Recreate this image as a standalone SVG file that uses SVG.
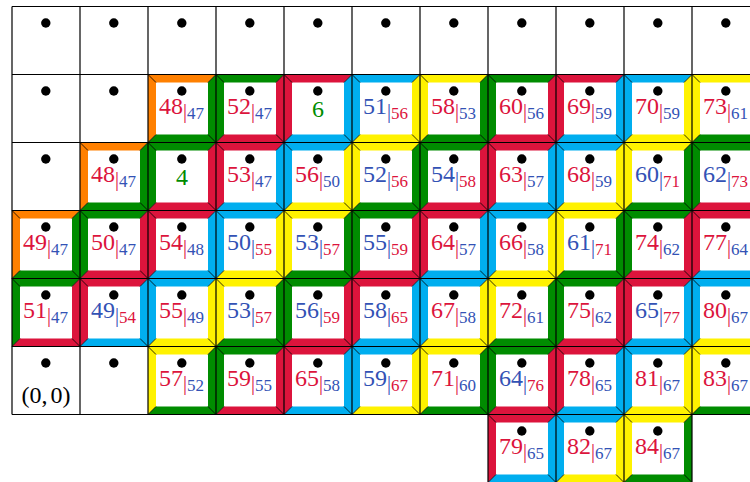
<svg xmlns="http://www.w3.org/2000/svg" xmlns:xlink="http://www.w3.org/1999/xlink" width="750" height="482" viewBox="0 0 750 482">
<style>
.o{fill:#FF8000}.g{fill:#008C00}.r{fill:#DC143C}.c{fill:#00AEEF}.y{fill:#FFF200}
.d{stroke:#000;stroke-width:0.8;fill:none}
.grid{stroke:#000;stroke-width:1.2;fill:none}
.dot{fill:#000}
text{font-family:"Liberation Serif","Times New Roman",serif;font-size:24px;text-anchor:middle}
.tr{fill:#DC143C}.tb{fill:#3352B5}.tg{fill:#008C00}.tk{fill:#000}
.bar{font-size:20px}.sub{font-size:17px}
</style>
<defs>
<path id="tl" d="M0,0H68L60,8H8V60L0,68Z"/>
<path id="br" d="M68,0V68H0L8,60H60V8Z"/>
<path id="dg" class="d" d="M0,0L8,8M68,0L60,8M68,68L60,60M0,68L8,60"/>
<circle id="dt" class="dot" cx="33.8" cy="16.5" r="4.7"/>
</defs>
<rect width="750" height="482" fill="#fff"/>
<g id="plain">
<g id="c0-0" transform="translate(12,6.5)"><use href="#dt"/></g>
<g id="c0-1" transform="translate(80,6.5)"><use href="#dt"/></g>
<g id="c0-2" transform="translate(148,6.5)"><use href="#dt"/></g>
<g id="c0-3" transform="translate(216,6.5)"><use href="#dt"/></g>
<g id="c0-4" transform="translate(284,6.5)"><use href="#dt"/></g>
<g id="c0-5" transform="translate(352,6.5)"><use href="#dt"/></g>
<g id="c0-6" transform="translate(420,6.5)"><use href="#dt"/></g>
<g id="c0-7" transform="translate(488,6.5)"><use href="#dt"/></g>
<g id="c0-8" transform="translate(556,6.5)"><use href="#dt"/></g>
<g id="c0-9" transform="translate(624,6.5)"><use href="#dt"/></g>
<g id="c0-10" transform="translate(692,6.5)"><use href="#dt"/></g>
<g id="c1-0" transform="translate(12,74.5)"><use href="#dt"/></g>
<g id="c1-1" transform="translate(80,74.5)"><use href="#dt"/></g>
<g id="c2-0" transform="translate(12,142.5)"><use href="#dt"/></g>
<g id="c5-0" transform="translate(12,346.5)"><use href="#dt"/><text class="tk" x="34" y="56">(0,<tspan dx="3">0)</tspan></text></g>
<g id="c5-1" transform="translate(80,346.5)"><use href="#dt"/></g>
</g>
<g id="row1">
<g id="c1-2" transform="translate(148,74.5)"><use href="#tl" class="o"/><use href="#br" class="g"/><use href="#dg"/><use href="#dt"/><text x="33.5" y="39.5"><tspan class="tr">48</tspan><tspan class="tr bar" dy="3.5">|</tspan><tspan class="tb sub" dy="1">47</tspan></text></g>
<g id="c1-3" transform="translate(216,74.5)"><use href="#tl" class="g"/><use href="#br" class="r"/><use href="#dg"/><use href="#dt"/><text x="33.5" y="39.5"><tspan class="tr">52</tspan><tspan class="tr bar" dy="3.5">|</tspan><tspan class="tb sub" dy="1">47</tspan></text></g>
<g id="c1-4" transform="translate(284,74.5)"><use href="#tl" class="r"/><use href="#br" class="c"/><use href="#dg"/><use href="#dt"/><text class="tg" x="34" y="42.5">6</text></g>
<g id="c1-5" transform="translate(352,74.5)"><use href="#tl" class="c"/><use href="#br" class="y"/><use href="#dg"/><use href="#dt"/><text x="33.5" y="39.5"><tspan class="tb">51</tspan><tspan class="tb bar" dy="3.5">|</tspan><tspan class="tr sub" dy="1">56</tspan></text></g>
<g id="c1-6" transform="translate(420,74.5)"><use href="#tl" class="y"/><use href="#br" class="g"/><use href="#dg"/><use href="#dt"/><text x="33.5" y="39.5"><tspan class="tr">58</tspan><tspan class="tr bar" dy="3.5">|</tspan><tspan class="tb sub" dy="1">53</tspan></text></g>
<g id="c1-7" transform="translate(488,74.5)"><use href="#tl" class="g"/><use href="#br" class="r"/><use href="#dg"/><use href="#dt"/><text x="33.5" y="39.5"><tspan class="tr">60</tspan><tspan class="tr bar" dy="3.5">|</tspan><tspan class="tb sub" dy="1">56</tspan></text></g>
<g id="c1-8" transform="translate(556,74.5)"><use href="#tl" class="r"/><use href="#br" class="c"/><use href="#dg"/><use href="#dt"/><text x="33.5" y="39.5"><tspan class="tr">69</tspan><tspan class="tr bar" dy="3.5">|</tspan><tspan class="tb sub" dy="1">59</tspan></text></g>
<g id="c1-9" transform="translate(624,74.5)"><use href="#tl" class="c"/><use href="#br" class="y"/><use href="#dg"/><use href="#dt"/><text x="33.5" y="39.5"><tspan class="tr">70</tspan><tspan class="tr bar" dy="3.5">|</tspan><tspan class="tb sub" dy="1">59</tspan></text></g>
<g id="c1-10" transform="translate(692,74.5)"><use href="#tl" class="y"/><use href="#br" class="g"/><use href="#dg"/><use href="#dt"/><text x="33.5" y="39.5"><tspan class="tr">73</tspan><tspan class="tr bar" dy="3.5">|</tspan><tspan class="tb sub" dy="1">61</tspan></text></g>
</g>
<g id="row2">
<g id="c2-1" transform="translate(80,142.5)"><use href="#tl" class="o"/><use href="#br" class="g"/><use href="#dg"/><use href="#dt"/><text x="33.5" y="39.5"><tspan class="tr">48</tspan><tspan class="tr bar" dy="3.5">|</tspan><tspan class="tb sub" dy="1">47</tspan></text></g>
<g id="c2-2" transform="translate(148,142.5)"><use href="#tl" class="g"/><use href="#br" class="r"/><use href="#dg"/><use href="#dt"/><text class="tg" x="34" y="42.5">4</text></g>
<g id="c2-3" transform="translate(216,142.5)"><use href="#tl" class="r"/><use href="#br" class="c"/><use href="#dg"/><use href="#dt"/><text x="33.5" y="39.5"><tspan class="tr">53</tspan><tspan class="tr bar" dy="3.5">|</tspan><tspan class="tb sub" dy="1">47</tspan></text></g>
<g id="c2-4" transform="translate(284,142.5)"><use href="#tl" class="c"/><use href="#br" class="y"/><use href="#dg"/><use href="#dt"/><text x="33.5" y="39.5"><tspan class="tr">56</tspan><tspan class="tr bar" dy="3.5">|</tspan><tspan class="tb sub" dy="1">50</tspan></text></g>
<g id="c2-5" transform="translate(352,142.5)"><use href="#tl" class="y"/><use href="#br" class="g"/><use href="#dg"/><use href="#dt"/><text x="33.5" y="39.5"><tspan class="tb">52</tspan><tspan class="tb bar" dy="3.5">|</tspan><tspan class="tr sub" dy="1">56</tspan></text></g>
<g id="c2-6" transform="translate(420,142.5)"><use href="#tl" class="g"/><use href="#br" class="r"/><use href="#dg"/><use href="#dt"/><text x="33.5" y="39.5"><tspan class="tb">54</tspan><tspan class="tb bar" dy="3.5">|</tspan><tspan class="tr sub" dy="1">58</tspan></text></g>
<g id="c2-7" transform="translate(488,142.5)"><use href="#tl" class="r"/><use href="#br" class="c"/><use href="#dg"/><use href="#dt"/><text x="33.5" y="39.5"><tspan class="tr">63</tspan><tspan class="tr bar" dy="3.5">|</tspan><tspan class="tb sub" dy="1">57</tspan></text></g>
<g id="c2-8" transform="translate(556,142.5)"><use href="#tl" class="c"/><use href="#br" class="y"/><use href="#dg"/><use href="#dt"/><text x="33.5" y="39.5"><tspan class="tr">68</tspan><tspan class="tr bar" dy="3.5">|</tspan><tspan class="tb sub" dy="1">59</tspan></text></g>
<g id="c2-9" transform="translate(624,142.5)"><use href="#tl" class="y"/><use href="#br" class="g"/><use href="#dg"/><use href="#dt"/><text x="33.5" y="39.5"><tspan class="tb">60</tspan><tspan class="tb bar" dy="3.5">|</tspan><tspan class="tr sub" dy="1">71</tspan></text></g>
<g id="c2-10" transform="translate(692,142.5)"><use href="#tl" class="g"/><use href="#br" class="r"/><use href="#dg"/><use href="#dt"/><text x="33.5" y="39.5"><tspan class="tb">62</tspan><tspan class="tb bar" dy="3.5">|</tspan><tspan class="tr sub" dy="1">73</tspan></text></g>
</g>
<g id="row3">
<g id="c3-0" transform="translate(12,210.5)"><use href="#tl" class="o"/><use href="#br" class="g"/><use href="#dg"/><use href="#dt"/><text x="33.5" y="39.5"><tspan class="tr">49</tspan><tspan class="tr bar" dy="3.5">|</tspan><tspan class="tb sub" dy="1">47</tspan></text></g>
<g id="c3-1" transform="translate(80,210.5)"><use href="#tl" class="g"/><use href="#br" class="r"/><use href="#dg"/><use href="#dt"/><text x="33.5" y="39.5"><tspan class="tr">50</tspan><tspan class="tr bar" dy="3.5">|</tspan><tspan class="tb sub" dy="1">47</tspan></text></g>
<g id="c3-2" transform="translate(148,210.5)"><use href="#tl" class="r"/><use href="#br" class="c"/><use href="#dg"/><use href="#dt"/><text x="33.5" y="39.5"><tspan class="tr">54</tspan><tspan class="tr bar" dy="3.5">|</tspan><tspan class="tb sub" dy="1">48</tspan></text></g>
<g id="c3-3" transform="translate(216,210.5)"><use href="#tl" class="c"/><use href="#br" class="y"/><use href="#dg"/><use href="#dt"/><text x="33.5" y="39.5"><tspan class="tb">50</tspan><tspan class="tb bar" dy="3.5">|</tspan><tspan class="tr sub" dy="1">55</tspan></text></g>
<g id="c3-4" transform="translate(284,210.5)"><use href="#tl" class="y"/><use href="#br" class="g"/><use href="#dg"/><use href="#dt"/><text x="33.5" y="39.5"><tspan class="tb">53</tspan><tspan class="tb bar" dy="3.5">|</tspan><tspan class="tr sub" dy="1">57</tspan></text></g>
<g id="c3-5" transform="translate(352,210.5)"><use href="#tl" class="g"/><use href="#br" class="r"/><use href="#dg"/><use href="#dt"/><text x="33.5" y="39.5"><tspan class="tb">55</tspan><tspan class="tb bar" dy="3.5">|</tspan><tspan class="tr sub" dy="1">59</tspan></text></g>
<g id="c3-6" transform="translate(420,210.5)"><use href="#tl" class="r"/><use href="#br" class="c"/><use href="#dg"/><use href="#dt"/><text x="33.5" y="39.5"><tspan class="tr">64</tspan><tspan class="tr bar" dy="3.5">|</tspan><tspan class="tb sub" dy="1">57</tspan></text></g>
<g id="c3-7" transform="translate(488,210.5)"><use href="#tl" class="c"/><use href="#br" class="y"/><use href="#dg"/><use href="#dt"/><text x="33.5" y="39.5"><tspan class="tr">66</tspan><tspan class="tr bar" dy="3.5">|</tspan><tspan class="tb sub" dy="1">58</tspan></text></g>
<g id="c3-8" transform="translate(556,210.5)"><use href="#tl" class="y"/><use href="#br" class="g"/><use href="#dg"/><use href="#dt"/><text x="33.5" y="39.5"><tspan class="tb">61</tspan><tspan class="tb bar" dy="3.5">|</tspan><tspan class="tr sub" dy="1">71</tspan></text></g>
<g id="c3-9" transform="translate(624,210.5)"><use href="#tl" class="g"/><use href="#br" class="r"/><use href="#dg"/><use href="#dt"/><text x="33.5" y="39.5"><tspan class="tr">74</tspan><tspan class="tr bar" dy="3.5">|</tspan><tspan class="tb sub" dy="1">62</tspan></text></g>
<g id="c3-10" transform="translate(692,210.5)"><use href="#tl" class="r"/><use href="#br" class="c"/><use href="#dg"/><use href="#dt"/><text x="33.5" y="39.5"><tspan class="tr">77</tspan><tspan class="tr bar" dy="3.5">|</tspan><tspan class="tb sub" dy="1">64</tspan></text></g>
</g>
<g id="row4">
<g id="c4-0" transform="translate(12,278.5)"><use href="#tl" class="g"/><use href="#br" class="r"/><use href="#dg"/><use href="#dt"/><text x="33.5" y="39.5"><tspan class="tr">51</tspan><tspan class="tr bar" dy="3.5">|</tspan><tspan class="tb sub" dy="1">47</tspan></text></g>
<g id="c4-1" transform="translate(80,278.5)"><use href="#tl" class="r"/><use href="#br" class="c"/><use href="#dg"/><use href="#dt"/><text x="33.5" y="39.5"><tspan class="tb">49</tspan><tspan class="tb bar" dy="3.5">|</tspan><tspan class="tr sub" dy="1">54</tspan></text></g>
<g id="c4-2" transform="translate(148,278.5)"><use href="#tl" class="c"/><use href="#br" class="y"/><use href="#dg"/><use href="#dt"/><text x="33.5" y="39.5"><tspan class="tr">55</tspan><tspan class="tr bar" dy="3.5">|</tspan><tspan class="tb sub" dy="1">49</tspan></text></g>
<g id="c4-3" transform="translate(216,278.5)"><use href="#tl" class="y"/><use href="#br" class="g"/><use href="#dg"/><use href="#dt"/><text x="33.5" y="39.5"><tspan class="tb">53</tspan><tspan class="tb bar" dy="3.5">|</tspan><tspan class="tr sub" dy="1">57</tspan></text></g>
<g id="c4-4" transform="translate(284,278.5)"><use href="#tl" class="g"/><use href="#br" class="r"/><use href="#dg"/><use href="#dt"/><text x="33.5" y="39.5"><tspan class="tb">56</tspan><tspan class="tb bar" dy="3.5">|</tspan><tspan class="tr sub" dy="1">59</tspan></text></g>
<g id="c4-5" transform="translate(352,278.5)"><use href="#tl" class="r"/><use href="#br" class="c"/><use href="#dg"/><use href="#dt"/><text x="33.5" y="39.5"><tspan class="tb">58</tspan><tspan class="tb bar" dy="3.5">|</tspan><tspan class="tr sub" dy="1">65</tspan></text></g>
<g id="c4-6" transform="translate(420,278.5)"><use href="#tl" class="c"/><use href="#br" class="y"/><use href="#dg"/><use href="#dt"/><text x="33.5" y="39.5"><tspan class="tr">67</tspan><tspan class="tr bar" dy="3.5">|</tspan><tspan class="tb sub" dy="1">58</tspan></text></g>
<g id="c4-7" transform="translate(488,278.5)"><use href="#tl" class="y"/><use href="#br" class="g"/><use href="#dg"/><use href="#dt"/><text x="33.5" y="39.5"><tspan class="tr">72</tspan><tspan class="tr bar" dy="3.5">|</tspan><tspan class="tb sub" dy="1">61</tspan></text></g>
<g id="c4-8" transform="translate(556,278.5)"><use href="#tl" class="g"/><use href="#br" class="r"/><use href="#dg"/><use href="#dt"/><text x="33.5" y="39.5"><tspan class="tr">75</tspan><tspan class="tr bar" dy="3.5">|</tspan><tspan class="tb sub" dy="1">62</tspan></text></g>
<g id="c4-9" transform="translate(624,278.5)"><use href="#tl" class="r"/><use href="#br" class="c"/><use href="#dg"/><use href="#dt"/><text x="33.5" y="39.5"><tspan class="tb">65</tspan><tspan class="tb bar" dy="3.5">|</tspan><tspan class="tr sub" dy="1">77</tspan></text></g>
<g id="c4-10" transform="translate(692,278.5)"><use href="#tl" class="c"/><use href="#br" class="y"/><use href="#dg"/><use href="#dt"/><text x="33.5" y="39.5"><tspan class="tr">80</tspan><tspan class="tr bar" dy="3.5">|</tspan><tspan class="tb sub" dy="1">67</tspan></text></g>
</g>
<g id="row5">
<g id="c5-2" transform="translate(148,346.5)"><use href="#tl" class="y"/><use href="#br" class="g"/><use href="#dg"/><use href="#dt"/><text x="33.5" y="39.5"><tspan class="tr">57</tspan><tspan class="tr bar" dy="3.5">|</tspan><tspan class="tb sub" dy="1">52</tspan></text></g>
<g id="c5-3" transform="translate(216,346.5)"><use href="#tl" class="g"/><use href="#br" class="r"/><use href="#dg"/><use href="#dt"/><text x="33.5" y="39.5"><tspan class="tr">59</tspan><tspan class="tr bar" dy="3.5">|</tspan><tspan class="tb sub" dy="1">55</tspan></text></g>
<g id="c5-4" transform="translate(284,346.5)"><use href="#tl" class="r"/><use href="#br" class="c"/><use href="#dg"/><use href="#dt"/><text x="33.5" y="39.5"><tspan class="tr">65</tspan><tspan class="tr bar" dy="3.5">|</tspan><tspan class="tb sub" dy="1">58</tspan></text></g>
<g id="c5-5" transform="translate(352,346.5)"><use href="#tl" class="c"/><use href="#br" class="y"/><use href="#dg"/><use href="#dt"/><text x="33.5" y="39.5"><tspan class="tb">59</tspan><tspan class="tb bar" dy="3.5">|</tspan><tspan class="tr sub" dy="1">67</tspan></text></g>
<g id="c5-6" transform="translate(420,346.5)"><use href="#tl" class="y"/><use href="#br" class="g"/><use href="#dg"/><use href="#dt"/><text x="33.5" y="39.5"><tspan class="tr">71</tspan><tspan class="tr bar" dy="3.5">|</tspan><tspan class="tb sub" dy="1">60</tspan></text></g>
<g id="c5-7" transform="translate(488,346.5)"><use href="#tl" class="g"/><use href="#br" class="r"/><use href="#dg"/><use href="#dt"/><text x="33.5" y="39.5"><tspan class="tb">64</tspan><tspan class="tb bar" dy="3.5">|</tspan><tspan class="tr sub" dy="1">76</tspan></text></g>
<g id="c5-8" transform="translate(556,346.5)"><use href="#tl" class="r"/><use href="#br" class="c"/><use href="#dg"/><use href="#dt"/><text x="33.5" y="39.5"><tspan class="tr">78</tspan><tspan class="tr bar" dy="3.5">|</tspan><tspan class="tb sub" dy="1">65</tspan></text></g>
<g id="c5-9" transform="translate(624,346.5)"><use href="#tl" class="c"/><use href="#br" class="y"/><use href="#dg"/><use href="#dt"/><text x="33.5" y="39.5"><tspan class="tr">81</tspan><tspan class="tr bar" dy="3.5">|</tspan><tspan class="tb sub" dy="1">67</tspan></text></g>
<g id="c5-10" transform="translate(692,346.5)"><use href="#tl" class="y"/><use href="#br" class="g"/><use href="#dg"/><use href="#dt"/><text x="33.5" y="39.5"><tspan class="tr">83</tspan><tspan class="tr bar" dy="3.5">|</tspan><tspan class="tb sub" dy="1">67</tspan></text></g>
</g>
<g id="row6">
<g id="c6-7" transform="translate(488,414.5)"><use href="#tl" class="r"/><use href="#br" class="c"/><use href="#dg"/><use href="#dt"/><text x="33.5" y="39.5"><tspan class="tr">79</tspan><tspan class="tr bar" dy="3.5">|</tspan><tspan class="tb sub" dy="1">65</tspan></text></g>
<g id="c6-8" transform="translate(556,414.5)"><use href="#tl" class="c"/><use href="#br" class="y"/><use href="#dg"/><use href="#dt"/><text x="33.5" y="39.5"><tspan class="tr">82</tspan><tspan class="tr bar" dy="3.5">|</tspan><tspan class="tb sub" dy="1">67</tspan></text></g>
<g id="c6-9" transform="translate(624,414.5)"><use href="#tl" class="y"/><use href="#br" class="g"/><use href="#dg"/><use href="#dt"/><text x="33.5" y="39.5"><tspan class="tr">84</tspan><tspan class="tr bar" dy="3.5">|</tspan><tspan class="tb sub" dy="1">67</tspan></text></g>
</g>
<g id="grid" class="grid">
<path d="M12,6.5H760M12,74.5H760M12,142.5H760M12,210.5H760M12,278.5H760M12,346.5H760M12,414.5H760M488,482.5H692"/>
<path d="M12,6.5V414.5M80,6.5V414.5M148,6.5V414.5M216,6.5V414.5M284,6.5V414.5M352,6.5V414.5M420,6.5V414.5M488,6.5V482.5M556,6.5V482.5M624,6.5V482.5M692,6.5V482.5"/>
</g>
</svg>
